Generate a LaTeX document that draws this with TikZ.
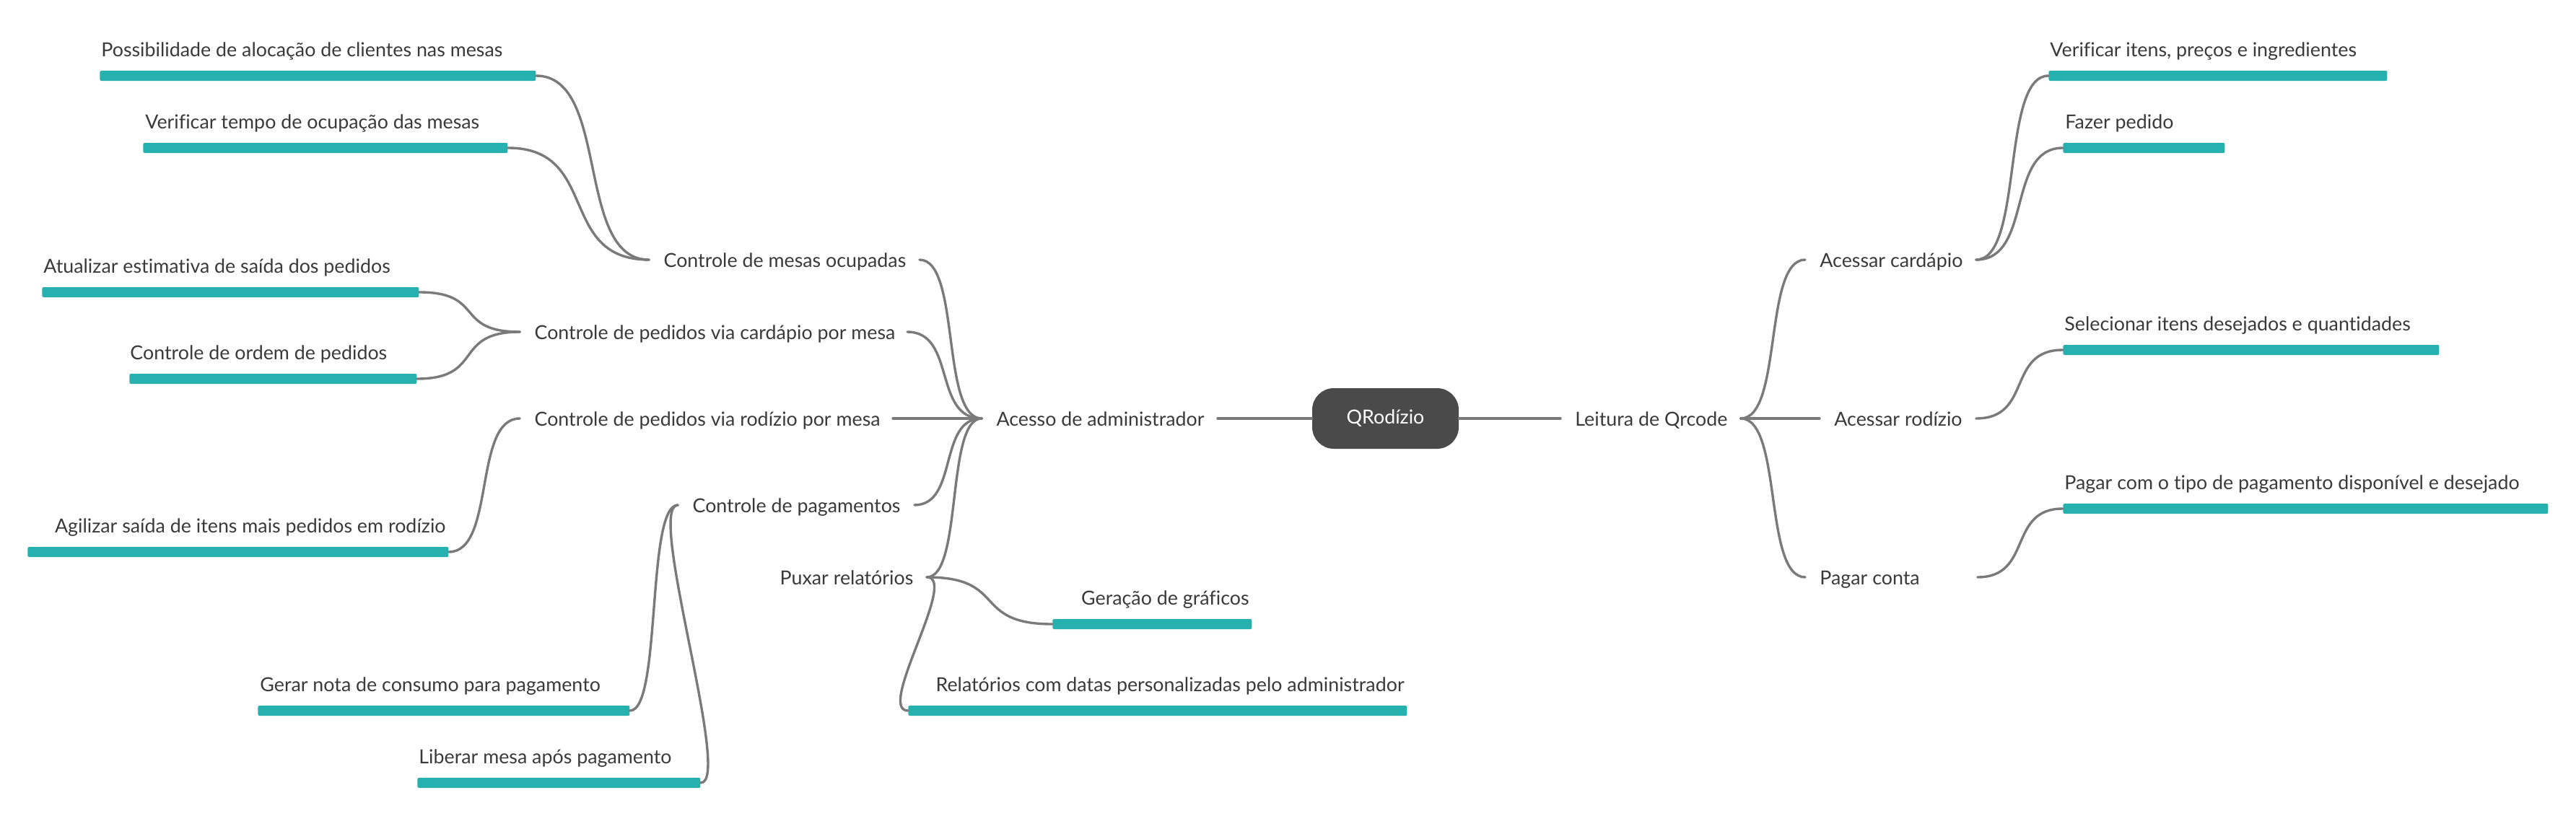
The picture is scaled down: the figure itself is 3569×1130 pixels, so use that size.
\documentclass[tikz,border=0pt]{standalone}
\usepackage{fontspec}
\setmainfont{Lato}[Ligatures=NoCommon]
\newlength\pxu \setlength\pxu{0.5pt}
\newcommand\mmtext[2]{\makebox[#1\pxu][l]{#2}}
\definecolor{barteal}{HTML}{26B0AE}
\definecolor{linegray}{HTML}{7A7A7A}
\definecolor{txtgray}{HTML}{3A3A3A}
\definecolor{rootfill}{HTML}{4A4A4A}
\begin{document}
\begin{tikzpicture}[x=0.5pt,y=-0.5pt,
  every node/.style={font=\fontsize{13.4}{16}\selectfont, text=txtgray},
  topic/.style={inner xsep=10pt, inner ysep=0pt, text height=10pt, text depth=0pt, anchor=west},
  topicl/.style={topic, anchor=east},
  bar/.style={fill=barteal, rounded corners=1pt, minimum height=7pt, inner sep=0pt, anchor=west, minimum width=#1*0.5pt},
  leaf/.style={anchor=base west, inner sep=0pt},
  leafr/.style={anchor=base east, inner sep=0pt},
  conn/.style={draw=linegray, line width=1.7pt, line cap=round},
  rootnode/.style={fill=rootfill, rounded corners=15pt, minimum width=101.5pt, minimum height=42pt, text=white, inner sep=0pt}]
\fill[white] (0,0) rectangle (3569,1130);
\useasboundingbox (0,0) rectangle (3569,1130);

% central
\node[rootnode] (root) at (1919.5,580) {QRodízio};
\node[topicl] (adm) at (1687,580) {\mmtext{286}{Acesso de administrador}};
\node[topic] (lei) at (2162,580) {\mmtext{209}{Leitura de Qrcode}};

% left topics
\node[topicl] (mesas) at (1274,360) {\mmtext{334}{Controle de mesas ocupadas}};
\node[topicl] (card) at (1257,460) {\mmtext{496}{Controle de pedidos via cardápio por mesa}};
\node[topicl] (rodl) at (1237,580) {\mmtext{476}{Controle de pedidos via rodízio por mesa}};
\node[topicl] (pag) at (1267,700) {\mmtext{287}{Controle de pagamentos}};
\node[topicl] (rel) at (1284,800) {\mmtext{183}{Puxar relatórios}};

% right topics
\node[topic] (acard) at (2501,360) {\mmtext{196}{Acessar cardápio}};
\node[topic] (arod) at (2521,580) {\mmtext{176}{Acessar rodízio}};
\node[topic] (pconta) at (2501,800) {\mmtext{198}{Pagar conta}};

% bars
\node[bar=604] (b1) at (138,105) {};
\node[bar=505] (b2) at (198,205) {};
\node[bar=522] (b3) at (58,405) {};
\node[bar=398] (b4) at (179,525) {};
\node[bar=583] (b5) at (38,765) {};
\node[bar=515] (b6) at (357,985) {};
\node[bar=392] (b7) at (578,1085) {};
\node[bar=276] (b8) at (1458,865) {};
\node[bar=691] (b9) at (1258,985) {};
\node[bar=469] (b10) at (2838,105) {};
\node[bar=224] (b11) at (2858,205) {};
\node[bar=521] (b12) at (2858,485) {};
\node[bar=672] (b13) at (2858,705) {};

% leaf texts
\node[leaf] (t1) at (140,78) {Possibilidade de alocação de clientes nas mesas};
\node[leaf] (t2) at (201,178) {Verificar tempo de ocupação das mesas};
\node[leaf] (t3) at (60,378) {Atualizar estimativa de saída dos pedidos};
\node[leaf] (t4) at (180,498) {Controle de ordem de pedidos};
\node[leafr] (t5) at (618,738) {Agilizar saída de itens mais pedidos em rodízio};
\node[leaf] (t6) at (360,958) {Gerar nota de consumo para pagamento};
\node[leaf] (t7) at (580,1058) {Liberar mesa após pagamento};
\node[leafr] (t8) at (1731,838) {Geração de gráficos};
\node[leafr] (t9) at (1946,958) {Relatórios com datas personalizadas pelo administrador};
\node[leaf] (t10) at (2840,78) {Verificar itens, preços e ingredientes};
\node[leaf] (t11) at (2861,178) {Fazer pedido};
\node[leaf] (t12) at (2860,458) {Selecionar itens desejados e quantidades};
\node[leaf] (t13) at (2860,678) {Pagar com o tipo de pagamento disponível e desejado};

% connectors
\draw[conn] (root.west) -- (adm.east);
\draw[conn] (root.east) -- (lei.west);

\draw[conn] (adm.west) .. controls +(-57,0) and +(57,0) .. (mesas.east);
\draw[conn] (adm.west) .. controls +(-68,0) and +(68,0) .. (card.east);
\draw[conn] (adm.west) -- (rodl.east);
\draw[conn] (adm.west) .. controls +(-61,0) and +(61,0) .. (pag.east);
\draw[conn] (adm.west) .. controls +(-50,0) and +(50,0) .. (rel.east);

\draw[conn] (lei.east) .. controls +(58,0) and +(-58,0) .. (acard.west);
\draw[conn] (lei.east) -- (arod.west);
\draw[conn] (lei.east) .. controls +(58,0) and +(-58,0) .. (pconta.west);

\draw[conn] (mesas.west) .. controls +(-103,0) and +(103,0) .. (b1.east);
\draw[conn] (mesas.west) .. controls +(-128,0) and +(128,0) .. (b2.east);
\draw[conn] (card.west) .. controls +(-92,0) and +(92,0) .. (b3.east);
\draw[conn] (card.west) .. controls +(-94,0) and +(94,0) .. (b4.east);
\draw[conn] (rodl.west) .. controls +(-65,0) and +(65,0) .. (b5.east);
\draw[conn] (pag.west) .. controls +(-44,0) and +(44,0) .. (b6.east);
\draw[conn] (pag.west) .. controls +(-45,0) and +(45,0) .. (b7.east);
\draw[conn] (rel.east) .. controls +(113,0) and +(-113,0) .. (b8.west);
\draw[conn] (rel.east) .. controls +(45,0) and +(-45,0) .. (b9.west);

\draw[conn] (acard.east) .. controls +(66,0) and +(-66,0) .. (b10.west);
\draw[conn] (acard.east) .. controls +(79,0) and +(-79,0) .. (b11.west);
\draw[conn] (arod.east) .. controls +(79,0) and +(-79,0) .. (b12.west);
\draw[conn] (pconta.east) .. controls +(77,0) and +(-77,0) .. (b13.west);
\end{tikzpicture}
\end{document}
